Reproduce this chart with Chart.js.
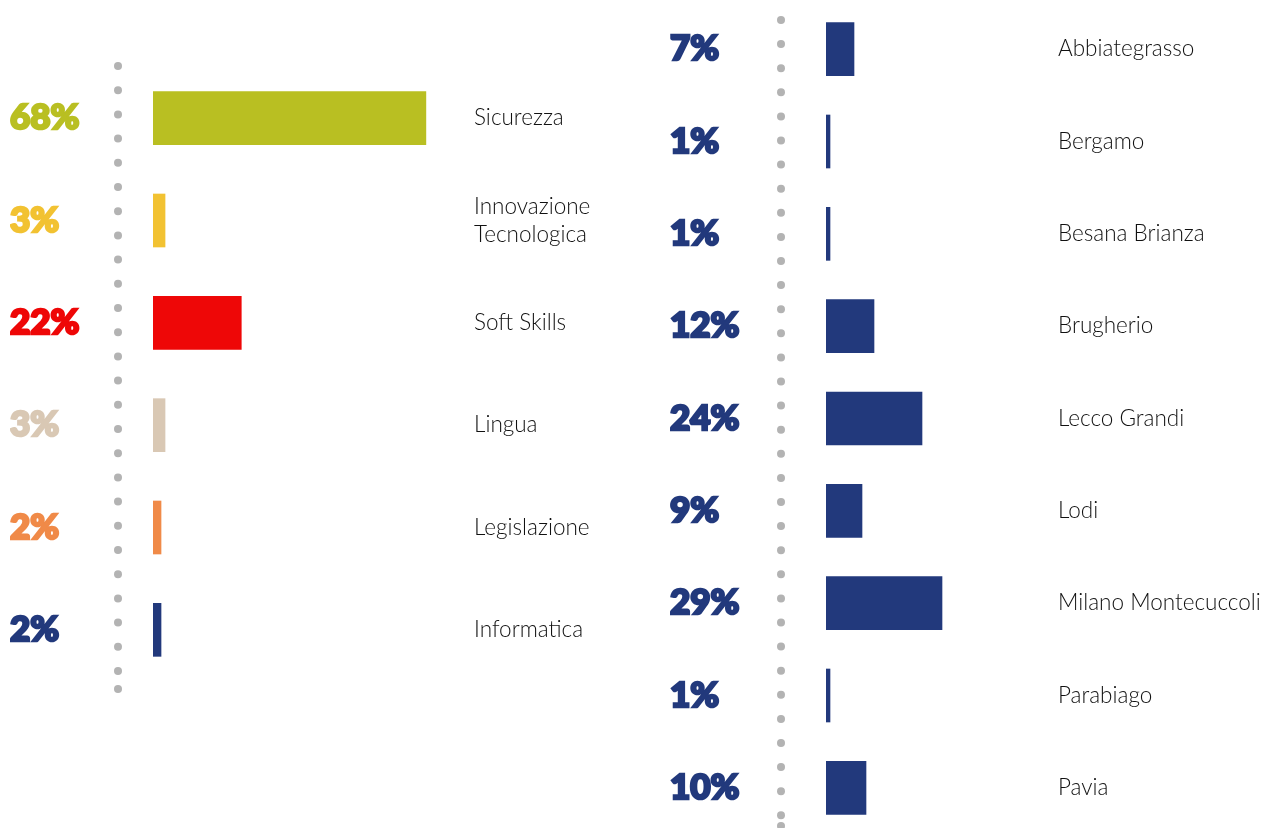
<!DOCTYPE html>
<html>
<head>
<meta charset="utf-8">
<script src="https://cdn.jsdelivr.net/npm/chart.js@4.4.0/dist/chart.umd.min.js"></script>
<style>
  html, body { margin: 0; padding: 0; background: #ffffff; width: 1266px; height: 828px; overflow: hidden; }
  #leftChart { position: absolute; left: 0; top: 0; }
  #rightChart { position: absolute; left: 640px; top: -40px; }
</style>
</head>
<body>
<canvas id="leftChart" width="640" height="828"></canvas>
<canvas id="rightChart" width="626" height="900"></canvas>
<script>
// ---- Data ----
const topicCategories = [['Sicurezza'], ['Innovazione', 'Tecnologica'], ['Soft Skills'], ['Lingua'], ['Legislazione'], ['Informatica']];
const topicValues = [68, 3, 22, 3, 2, 2];
const topicColors = ['#b9bf22', '#f2c232', '#ee0707', '#d9c8b4', '#f08a48', '#22397c'];

const siteCategories = ['Abbiategrasso', 'Bergamo', 'Besana Brianza', 'Brugherio', 'Lecco Grandi', 'Lodi', 'Milano Montecuccoli', 'Parabiago', 'Pavia'];
const siteValues = [7, 1, 1, 12, 24, 9, 29, 1, 10];
const siteColor = '#22397c';

Chart.defaults.devicePixelRatio = 1;

function dotsPlugin(offsetX, yStart, yEnd, step, extraEnd) {
  return {
    id: 'dots',
    beforeDatasetsDraw(chart) {
      const ctx = chart.ctx;
      const x = chart.chartArea.left - offsetX;
      ctx.save();
      ctx.fillStyle = '#b3b3b3';
      const ys = [];
      for (let y = yStart; y <= yEnd; y += step) ys.push(y);
      if (extraEnd) ys.push(extraEnd);
      ys.forEach(y => { ctx.beginPath(); ctx.arc(x, y, 4, 0, Math.PI * 2); ctx.fill(); });
      ctx.restore();
    }
  };
}

function makeChart(id, labels, values, colors, opts) {
  const pick = c => (Array.isArray(colors) ? colors[c.index] : colors);
  return new Chart(document.getElementById(id), {
    type: 'bar',
    data: {
      labels: labels,
      datasets: [{
        data: values,
        backgroundColor: colors,
        borderWidth: 0,
        barThickness: 53,
        yAxisID: 'y'
      }]
    },
    options: {
      indexAxis: 'y',
      responsive: false,
      animation: false,
      layout: { padding: opts.padding },
      plugins: { legend: { display: false }, tooltip: { enabled: false } },
      scales: {
        x: { display: false, min: 0, max: opts.xMax },
        y: {
          position: 'left',
          grid: { display: false, drawTicks: false },
          border: { display: false },
          afterFit: s => { s.width = opts.leftWidth; },
          ticks: {
            crossAlign: 'far',
            padding: 0,
            color: pick,
            textStrokeColor: pick,
            textStrokeWidth: 2.5,
            font: { family: 'Lato', weight: '900', size: 35 },
            callback: (v, i) => values[i] + '%'
          }
        },
        yLabels: {
          type: 'category',
          position: 'right',
          grid: { display: false, drawTicks: false },
          border: { display: false },
          afterFit: s => { s.width = opts.rightWidth; },
          ticks: {
            crossAlign: 'near',
            padding: 8,
            color: '#111111',
            font: { family: 'Lato', weight: '300', size: 22.5, lineHeight: 1.25 },
            callback: (v, i) => labels[i]
          }
        }
      }
    },
    plugins: [opts.dots]
  });
}

makeChart('leftChart', topicCategories, topicValues, topicColors, {
  padding: { left: 10, right: 0, top: 67, bottom: 147 },
  xMax: 78,
  leftWidth: 143,
  rightWidth: 174,
  dots: dotsPlugin(35, 66, 680, 24.2, 689)
});

makeChart('rightChart', siteCategories, siteValues, siteColor, {
  padding: { left: 30, right: 0, top: 43, bottom: 26 },
  xMax: 56,
  leftWidth: 156,
  rightWidth: 216,
  dots: dotsPlugin(45, 60, 856, 24.1, 866)
});
</script>
</body>
</html>
